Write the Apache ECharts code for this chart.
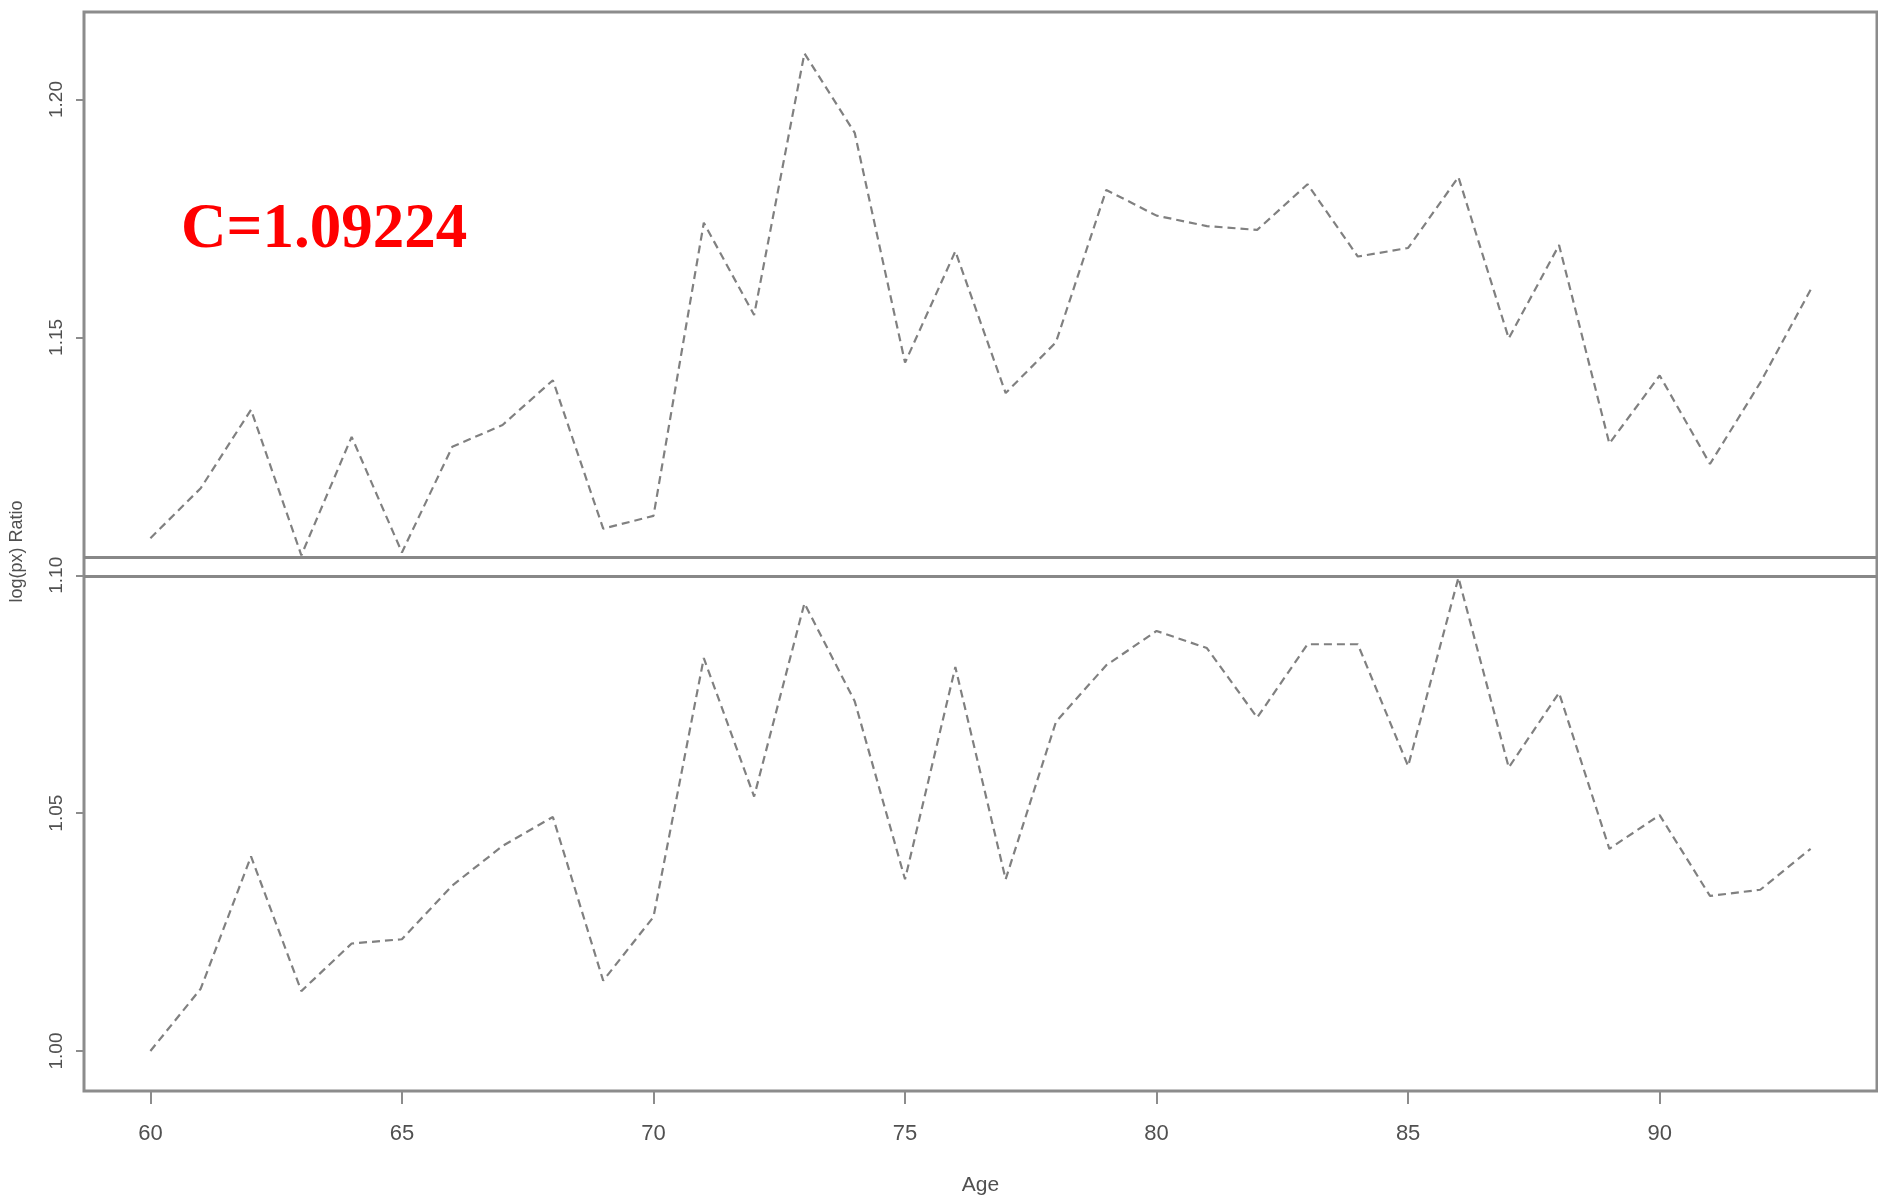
<!DOCTYPE html>
<html>
<head>
<meta charset="utf-8">
<script src="https://cdn.jsdelivr.net/npm/echarts@6/dist/echarts.min.js"></script>
<style>
html,body{margin:0;padding:0;background:#fff;}
#chart{width:1878px;height:1199px;}
</style>
</head>
<body>
<div id="chart"></div>
<script>
// ---- data ----
var ages = [60,61,62,63,64,65,66,67,68,69,70,71,72,73,74,75,76,77,78,79,80,81,82,83,84,85,86,87,88,89,90,91,92,93];
var upperRatio = [1.1078,1.1183,1.1348,1.1042,1.1291,1.1048,1.1270,1.1316,1.1410,1.1098,1.1125,1.1741,1.1547,1.2097,1.1930,1.1447,1.1681,1.1383,1.1490,1.1810,1.1756,1.1734,1.1726,1.1822,1.1670,1.1688,1.1837,1.1498,1.1694,1.1277,1.1420,1.1234,1.1405,1.1600];
var lowerRatio = [1.0000,1.0131,1.0409,1.0126,1.0226,1.0235,1.0348,1.0431,1.0492,1.0148,1.0282,1.0826,1.0535,1.0941,1.0735,1.0361,1.0807,1.0361,1.0692,1.0811,1.0883,1.0847,1.0701,1.0855,1.0855,1.0599,1.0995,1.0596,1.0753,1.0425,1.0496,1.0326,1.0339,1.0425];
var xTicks = [60,65,70,75,80,85,90];
var yTicks = [1.00,1.05,1.10,1.15,1.20];
var panelLines = [1.1038, 1.0998];
var annotation = 'C=1.09224';
var xMin = 58.68, xMax = 94.32, yMin = 0.9916, yMax = 1.2184;

var chart = echarts.init(document.getElementById('chart'), null, {renderer:'canvas'});
function pairs(vals){ return ages.map(function(a,i){ return [a, vals[i]]; }); }
var frameColor = '#8c8c8c';
var labelColor = '#505050';
var dash = {color:'#808080', width:2.2, type:[8,5]};
var panelStyle = {color:'#888888', width:3, type:'solid'};

chart.setOption({
  animation:false,
  backgroundColor:'#ffffff',
  grid:{left:84, right:1, top:12, bottom:108, containLabel:false, outerBoundsMode:'none',
    show:true, borderColor:frameColor, borderWidth:3, backgroundColor:'transparent'},
  xAxis:{
    type:'value', min:xMin, max:xMax,
    name:'Age', nameLocation:'middle', nameGap:84,
    nameTextStyle:{fontFamily:'Liberation Sans Narrow, Liberation Sans, sans-serif', fontSize:21, color:labelColor},
    axisLine:{show:false},
    splitLine:{show:false},
    axisTick:{show:true, length:13, lineStyle:{color:frameColor, width:2}, customValues:xTicks},
    axisLabel:{color:labelColor, fontFamily:'Liberation Sans Narrow, Liberation Sans, sans-serif', fontSize:22, margin:32, customValues:xTicks}
  },
  yAxis:{
    type:'value', min:yMin, max:yMax,
    name:'log(px) Ratio', nameLocation:'middle', nameGap:58, nameRotate:90,
    nameTextStyle:{fontFamily:'Liberation Sans, sans-serif', fontSize:18, color:labelColor},
    axisLine:{show:false},
    splitLine:{show:false},
    axisTick:{show:true, length:8, lineStyle:{color:frameColor, width:2}, customValues:yTicks},
    axisLabel:{color:labelColor, fontFamily:'Liberation Sans, sans-serif', fontSize:19, rotate:90, margin:18,
      customValues:yTicks, formatter:function(v){ return v.toFixed(2); }}
  },
  graphic:[{
    type:'text', left:181, top:199, z:100,
    style:{text:annotation, fill:'#ff0000', font:'bold 63px "Liberation Serif", "Times New Roman", serif'}
  }],
  series:[
    {type:'line', data:pairs(upperRatio), symbol:'none', lineStyle:dash, z:3,
      markLine:{silent:true, symbol:['none','none'], label:{show:false}, lineStyle:panelStyle,
        data:panelLines.map(function(v){ return [{coord:[xMin, v]}, {coord:[xMax, v]}]; })}},
    {type:'line', data:pairs(lowerRatio), symbol:'none', lineStyle:dash, z:3}
  ]
});
</script>
</body>
</html>
